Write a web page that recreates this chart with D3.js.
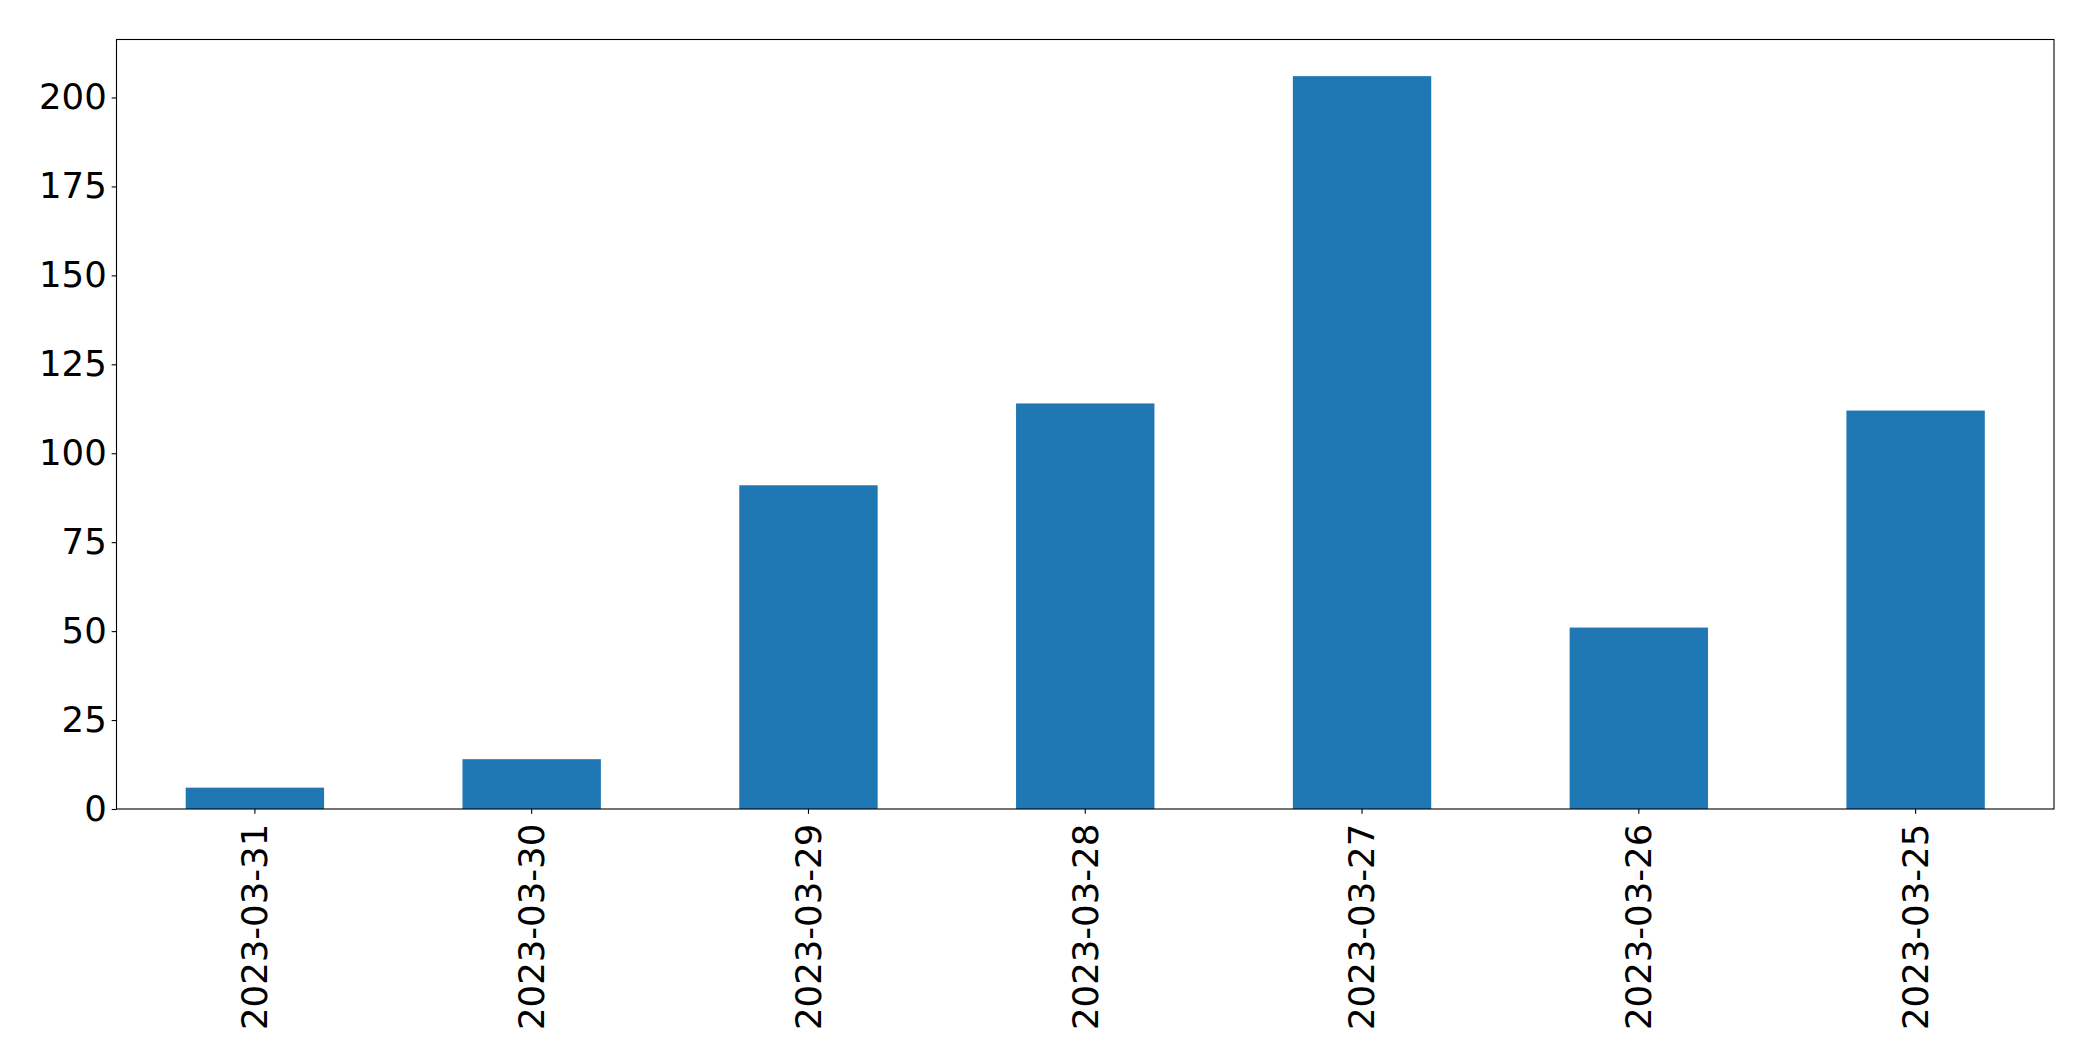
<!DOCTYPE html>
<html>
<head>
<meta charset="utf-8">
<script src="https://cdn.jsdelivr.net/npm/d3@7"></script>
<style>
  html, body { margin: 0; padding: 0; background: #fff; }
  svg { display: block; }
  text { font-family: "DejaVu Sans", sans-serif; fill: #000; }
</style>
</head>
<body>
<svg id="chart" width="2093" height="1061"></svg>
<script>
const categories = ["2023-03-31", "2023-03-30", "2023-03-29", "2023-03-28", "2023-03-27", "2023-03-26", "2023-03-25"];
const values = [6, 14, 91, 114, 206, 51, 112];
const yTicks = [0, 25, 50, 75, 100, 125, 150, 175, 200];

const W = 2093, H = 1061;
const margin = { left: 116.5, right: W - 2054, top: 39.5, bottom: H - 809 };
const svg = d3.select("#chart");
const g = svg.append("g");

const x = d3.scaleBand()
  .domain(categories)
  .range([margin.left, W - margin.right])
  .paddingInner(0.5)
  .paddingOuter(0.25);

const yMax = d3.max(values) * 1.05;
const y = d3.scaleLinear().domain([0, yMax]).range([H - margin.bottom, margin.top]);

const fontSize = 35.5;
const tickLen = 4.86, tickPad = 4.86;

// bars
g.selectAll("rect.bar")
  .data(values)
  .enter().append("rect")
  .attr("class", "bar")
  .attr("x", (d, i) => x(categories[i]))
  .attr("width", x.bandwidth())
  .attr("y", d => y(d))
  .attr("height", d => y(0) - y(d))
  .attr("fill", "#1f77b4");

// y axis
const yAxis = d3.axisLeft(y).tickValues(yTicks).tickSizeInner(tickLen).tickSizeOuter(0).tickPadding(tickPad);
const yg = g.append("g").attr("transform", `translate(${margin.left},0)`).call(yAxis);
yg.select(".domain").remove();
yg.selectAll(".tick line").attr("stroke", "#000").attr("stroke-width", 1.1);
yg.selectAll(".tick text").style("font-size", fontSize + "px").style("font-family", "DejaVu Sans").attr("fill", "#000");

// x axis
const xAxis = d3.axisBottom(x).tickSizeInner(tickLen).tickSizeOuter(0).tickPadding(tickPad);
const xg = g.append("g").attr("transform", `translate(0,${H - margin.bottom})`).call(xAxis);
xg.select(".domain").remove();
xg.selectAll(".tick line").attr("stroke", "#000").attr("stroke-width", 1.1);
xg.selectAll(".tick text")
  .style("font-size", fontSize + "px")
  .style("font-family", "DejaVu Sans")
  .attr("fill", "#000")
  .attr("text-anchor", "end")
  .attr("dy", "0.35em")
  .attr("transform", `translate(0,${tickLen + tickPad + 5}) rotate(-90)`)
  .attr("x", 0)
  .attr("y", 0);

// frame
g.append("rect")
  .attr("x", margin.left)
  .attr("y", margin.top)
  .attr("width", W - margin.right - margin.left)
  .attr("height", H - margin.bottom - margin.top)
  .attr("fill", "none")
  .attr("stroke", "#000")
  .attr("stroke-width", 1.1);
</script>
</body>
</html>
